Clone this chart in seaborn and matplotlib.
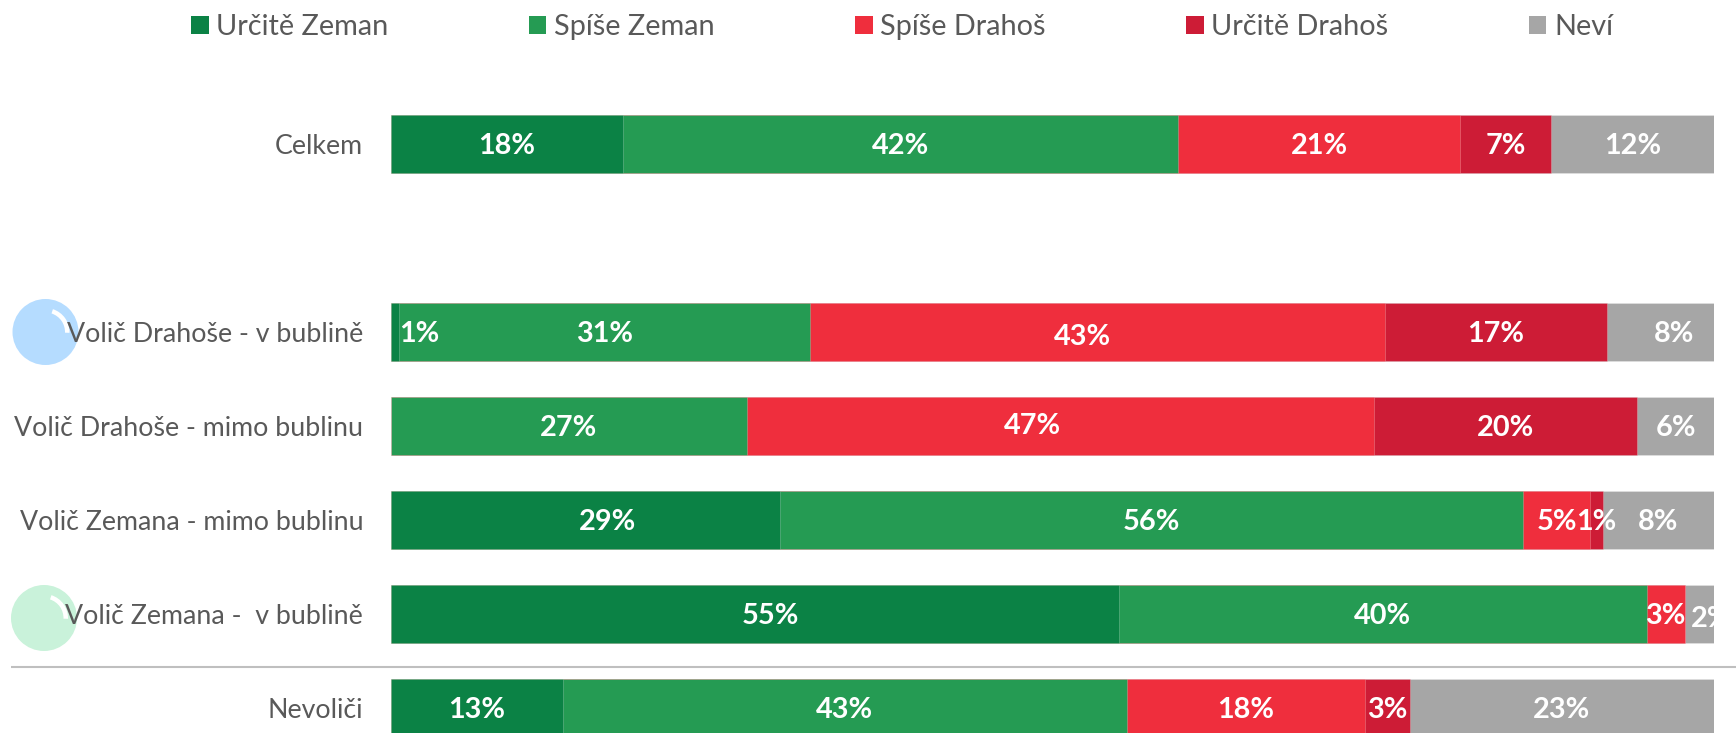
import matplotlib
matplotlib.use("Agg")
import matplotlib.pyplot as plt
from matplotlib.patches import Patch, Circle, Wedge
import numpy as np
import pandas as pd
import seaborn as sns

categories = ["Celkem", " ", "Volič Drahoše - v bublině", "Volič Drahoše - mimo bublinu",
              "Volič Zemana - mimo bublinu", "Volič Zemana -  v bublině", "Nevoliči"]
series_names = ["Určitě Zeman", "Spíše Zeman", "Spíše Drahoš", "Určitě Drahoš", "Neví"]
urcite_zeman = [17.5, np.nan, 0.6, 0.0, 29.4, 55.0, 13.0]
spise_zeman = [42.0, np.nan, 31.1, 26.9, 56.2, 39.9, 42.6]
spise_drahos = [21.3, np.nan, 43.4, 47.4, 5.0, 2.9, 18.0]
urcite_drahos = [6.9, np.nan, 16.8, 19.9, 1.0, 0.0, 3.4]
nevi = [12.3, np.nan, 8.1, 5.8, 8.4, 2.2, 23.0]
colors = ["#0B8245", "#259B53", "#EF2E3D", "#CD1C36", "#A6A6A6"]

sns.set_theme(style="white")
plt.rcParams["font.family"] = ["Lato", "DejaVu Sans"]

W, H = 1736, 733
fig = plt.figure(figsize=(W / 100, H / 100), dpi=100, facecolor="white")

# background layer in pixel coordinates: bubbles and separator
bg = fig.add_axes([0, 0, 1, 1], zorder=0)
bg.set_xlim(0, W)
bg.set_ylim(H, 0)
bg.axis("off")
for cx, cy, col in [(45.5, 332, "#B5DCFF"), (44, 618, "#C9F2DA")]:
    bg.add_patch(Circle((cx, cy), 33, fc=col, ec="none"))
    bg.add_patch(Wedge((cx, cy), 24, -72, 2, width=4.5, fc="white", ec="none"))
bg.plot([11, W], [667, 667], color="#BFBFBF", lw=1.5, solid_capstyle="butt")

# chart layer
ax = fig.add_axes([391 / W, 0, (1714 - 391) / W, 1], zorder=1)
ax.patch.set_alpha(0)

all_series = [urcite_zeman, spise_zeman, spise_drahos, urcite_drahos, nevi]
df = pd.DataFrame(all_series, index=series_names, columns=categories).T
cum = df.cumsum(axis=1)
for name, col in reversed(list(zip(series_names, colors))):
    sns.barplot(x=cum[name].values, y=categories, order=categories, orient="h", color=col,
                saturation=1, width=58 / 94, ax=ax, edgecolor="#FFFFFF40", linewidth=0.6, errorbar=None)

ax.set_xlim(0, 100)
ax.set_ylim((H - 144) / 94, -144 / 94)
ax.set_xlabel("")
ax.set_ylabel("")
ax.set_xticks([])
ax.tick_params(axis="y", length=0, pad=20, labelsize=19.3, labelcolor="#595959")
for s in ax.spines.values():
    s.set_visible(False)

# bar labels; hand-placed ones are shifted as in the reference
shift = {(2, 0): (1.8, 0.0), (5, 4): (0.85, 0.03), (2, 2): (-1.15, 0.03), (2, 4): (1.0, 0.0),
         (3, 2): (-2.1, -0.02), (4, 0): (1.7, 0.0), (5, 0): (1.2, 0.0)}
for r, cat in enumerate(categories):
    for c, name in enumerate(series_names):
        v = df.loc[cat, name]
        if np.isnan(v) or v < 0.3:
            continue
        dx, dy = shift.get((r, c), (0, 0))
        ax.text(cum.loc[cat, name] - v / 2 + dx, r + dy + 0.025, f"{v:.0f}%", ha="center", va="center",
                color="white", fontsize=20.8, fontweight="bold", clip_on=True)

handles = [Patch(fc=col, ec="none", label=n) for n, col in zip(series_names, colors)]
fig.legend(handles=handles, loc="center", bbox_to_anchor=(902 / W, 1 - 27 / H), ncol=5,
           frameon=False, fontsize=20.8, labelcolor="#595959", handlelength=0.61, handleheight=0.61,
           handletextpad=0.27, columnspacing=4.85, borderpad=0)

fig.savefig("out.png", dpi=100, facecolor="white")
